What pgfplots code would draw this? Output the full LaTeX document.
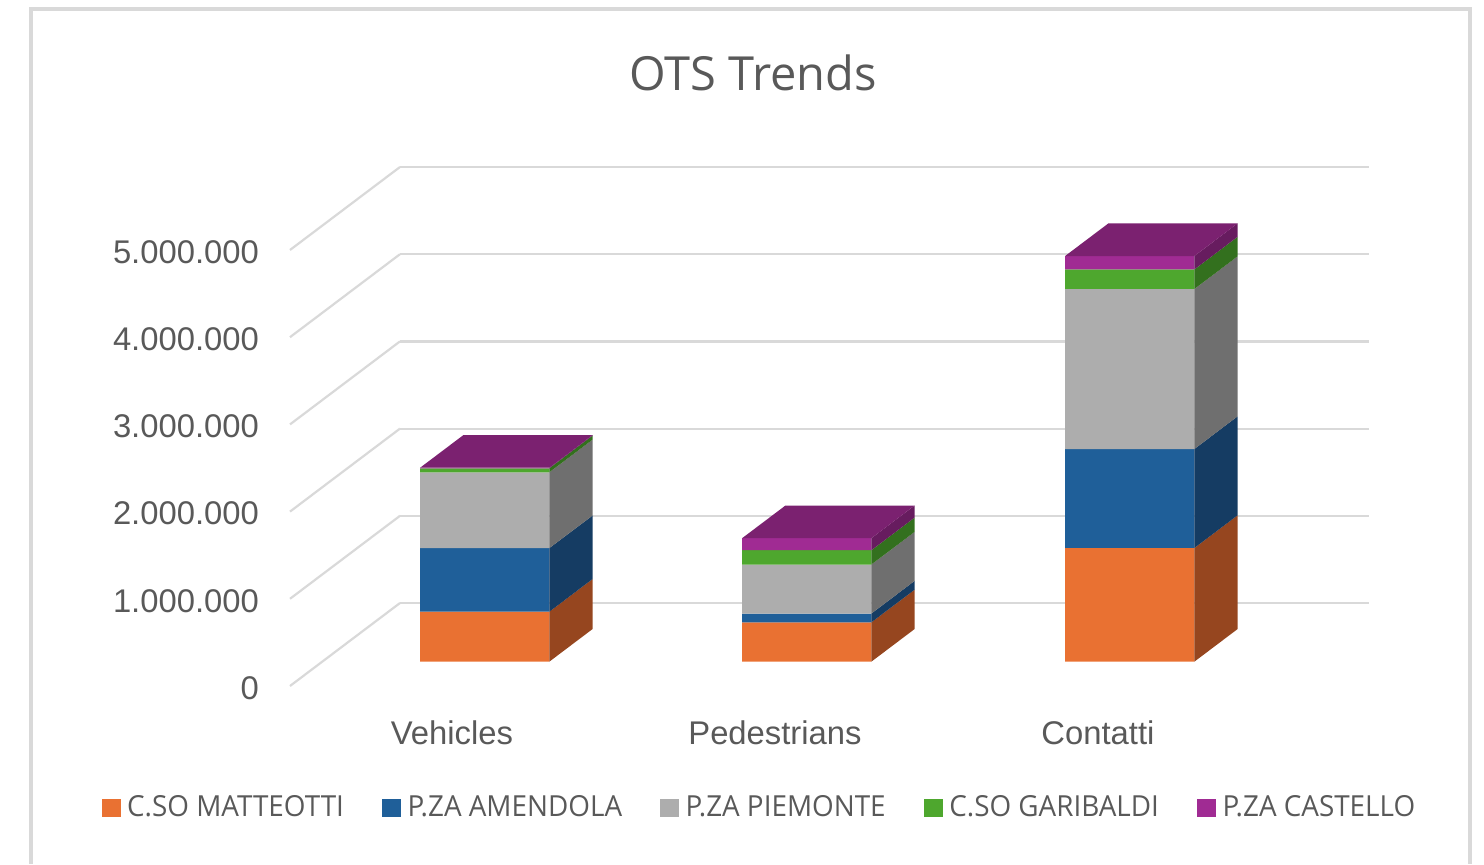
\documentclass[border=0pt]{standalone}
\usepackage{fontspec}
\setmainfont{Liberation Sans}
\newfontfamily\titlefont{Open Sans}
\newfontfamily\narrowfont[FakeStretch=0.96]{Open Sans}
\usepackage{pgfplots}
\pgfplotsset{compat=1.18}
\definecolor{cOr}{HTML}{E97132}\definecolor{sOr}{HTML}{96461F}
\definecolor{cBl}{HTML}{1F5F99}\definecolor{sBl}{HTML}{153C63}
\definecolor{cGr}{HTML}{ADADAD}\definecolor{sGr}{HTML}{6F6F6F}
\definecolor{cGn}{HTML}{4EA72E}\definecolor{sGn}{HTML}{33701E}
\definecolor{cPu}{HTML}{A02B93}\definecolor{sPu}{HTML}{671C5F}
\definecolor{tPu}{HTML}{7B2170}
\definecolor{txt}{HTML}{595959}
\definecolor{gridc}{HTML}{D9D9D9}
% #1 x0, #2 x1, #3 z0, #4 z1, #5 front colour, #6 side colour
\newcommand{\seg}[6]{%
  \addplot3[fill=#5,draw=none,no markers,forget plot] coordinates {(#1,0.293,#3)(#2,0.293,#3)(#2,0.293,#4)(#1,0.293,#4)(#1,0.293,#3)};
  \addplot3[fill=#6,draw=none,no markers,forget plot] coordinates {(#2,0.293,#3)(#2,0.687,#3)(#2,0.687,#4)(#2,0.293,#4)(#2,0.293,#3)};
}
% #1 x0, #2 x1, #3 z
\newcommand{\topface}[3]{%
  \addplot3[fill=tPu,draw=none,no markers,forget plot] coordinates {(#1,0.293,#3)(#2,0.293,#3)(#2,0.687,#3)(#1,0.687,#3)(#1,0.293,#3)};
}
\begin{document}
\begin{tikzpicture}[x=1pt,y=1pt]
\useasboundingbox (0,0) rectangle (742,432);
\draw[gridc,line width=1.6pt] (15.5,0) -- (15.5,427.5) -- (735,427.5) -- (735,0);
\begin{axis}[
  at={(145pt,89pt)},anchor=origin,
  x={(161.5pt,0pt)},y={(55pt,41.5pt)},z={(0pt,43.6pt)},
  xmin=0,xmax=3,ymin=0,ymax=1,zmin=0,zmax=5,
  clip=false,
  axis line style={draw=none},
  major tick style={draw=none},
  ytick=\empty,
  xtick={0.5,1.5,2.5},
  xticklabels={Vehicles,Pedestrians,Contatti},
  ztick={0,1,2,3,4,5},
  zticklabels={0,1.000.000,2.000.000,3.000.000,4.000.000,5.000.000},
  zmajorgrids=true,xmajorgrids=false,
  grid style={gridc,line width=1.1pt},
  tick label style={font=\fontsize{16.4}{18}\selectfont,text=txt},
  z tick label style={anchor=east,xshift=-12pt,yshift=-1pt},
  x tick label style={xshift=5pt,yshift=-14pt},
  title={OTS Trends},
  title style={at={(0.429,1.158)},anchor=center,font=\titlefont\fontsize{23.5}{28}\selectfont,text=txt},
  legend columns=5,
  legend style={at={(-0.175,-0.235)},anchor=west,draw=none,fill=none,inner sep=0pt,
    font=\narrowfont\fontsize{14.5}{18}\selectfont,text=txt,
    /tikz/every even column/.append style={column sep=17pt}},
  legend image code/.code={\path[draw=none,fill,#1] (0pt,-4.7pt) rectangle (9.5pt,4.7pt);\path (10.6pt,0pt);},
]
\addlegendimage{fill=cOr}\addlegendentry{C.SO MATTEOTTI}
\addlegendimage{fill=cBl}\addlegendentry{P.ZA AMENDOLA}
\addlegendimage{fill=cGr}\addlegendentry{P.ZA PIEMONTE}
\addlegendimage{fill=cGn}\addlegendentry{C.SO GARIBALDI}
\addlegendimage{fill=cPu}\addlegendentry{P.ZA CASTELLO}
% values in millions
% Vehicles
\seg{0.303}{0.703}{0}{0.573}{cOr}{sOr}
\seg{0.303}{0.703}{0.573}{1.302}{cBl}{sBl}
\seg{0.303}{0.703}{1.302}{2.172}{cGr}{sGr}
\seg{0.303}{0.703}{2.172}{2.218}{cGn}{sGn}
\seg{0.303}{0.703}{2.218}{2.224}{cPu}{sPu}
\topface{0.303}{0.703}{2.224}
% Pedestrians
\seg{1.300}{1.700}{0}{0.451}{cOr}{sOr}
\seg{1.300}{1.700}{0.451}{0.552}{cBl}{sBl}
\seg{1.300}{1.700}{0.552}{1.114}{cGr}{sGr}
\seg{1.300}{1.700}{1.114}{1.278}{cGn}{sGn}
\seg{1.300}{1.700}{1.278}{1.416}{cPu}{sPu}
\topface{1.300}{1.700}{1.416}
% Contatti
\seg{2.300}{2.700}{0}{1.304}{cOr}{sOr}
\seg{2.300}{2.700}{1.304}{2.439}{cBl}{sBl}
\seg{2.300}{2.700}{2.439}{4.274}{cGr}{sGr}
\seg{2.300}{2.700}{4.274}{4.498}{cGn}{sGn}
\seg{2.300}{2.700}{4.498}{4.652}{cPu}{sPu}
\topface{2.300}{2.700}{4.652}
\end{axis}
\end{tikzpicture}
\end{document}
